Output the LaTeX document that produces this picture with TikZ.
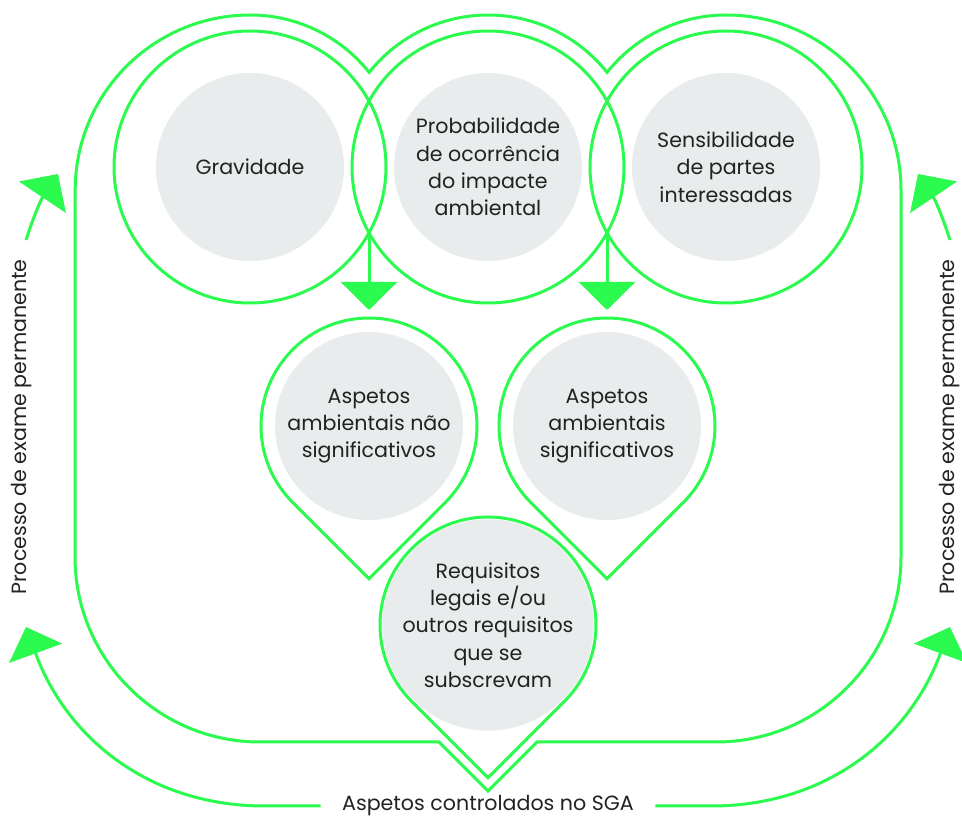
\documentclass[tikz,border=0pt]{standalone}
\usepackage{fontspec}
\setmainfont{Poppins}
\usetikzlibrary{arrows.meta,calc}
\definecolor{leaf}{RGB}{43,250,78}
\definecolor{mist}{RGB}{233,236,236}
\definecolor{ink}{RGB}{34,34,34}
\begin{document}
\begin{tikzpicture}[x=1pt, y=1pt, line width=3pt, text=ink, font=\fontsize{20.6}{27.3}\selectfont,
  main/.style = {circle, fill=mist, minimum size=188pt, inner sep=0pt, outer sep=22pt, align=center},
  ring/.style = {draw=leaf},
  flow/.style = {draw=leaf, -{Triangle[width=56pt,length=28pt]}, leaf},
  side/.style = {rotate=90}]
\useasboundingbox (0,0) rectangle (962,817);
\node[main] (1) at (250,650) {Gravidade};
\node[main] (2) at (488,650) {Probabilidade\\de ocorrência\\do impacte\\ambiental};
\node[main] (3) at (726,650) {Sensibilidade\\de partes\\interessadas};
\node[main] (4) at (369,391) {Aspetos\\ambientais não\\significativos};
\node[main] (5) at (607,391) {Aspetos\\ambientais\\significativos};
\node[main] (6) at (488,192) {Requisitos\\legais e/ou\\outros requisitos\\que se\\subscrevam};
\node[inner xsep=20pt] (7) at (488,11) {Aspetos controlados no SGA};
\node[side] (8) at (22,390) {Processo de exame permanente};
\node[side] (9) at (950,390) {Processo de exame permanente};
\coordinate (a) at (369,584);
\coordinate (b) at (607,584);
\coordinate (p1) at (26,577);
\coordinate (p2) at (58,643);
\coordinate (q1) at (950,577);
\coordinate (q2) at (918,643);
\coordinate (r1) at (26,190);
\coordinate (s1) at (950,190);
\draw[ring] (1.center) circle[radius=136];
\draw[ring] (2.center) circle[radius=136];
\draw[ring] (3.center) circle[radius=136];
\draw[ring] ($(4.center)+(-45:108)$) arc[start angle=-45, end angle=225, radius=108] -- ($(4.center)+(0,-152.7)$) -- cycle;
\draw[ring] ($(5.center)+(-45:108)$) arc[start angle=-45, end angle=225, radius=108] -- ($(5.center)+(0,-152.7)$) -- cycle;
\draw[ring] ($(6.center)+(-45:108)$) arc[start angle=-45, end angle=225, radius=108] -- ($(6.center)+(0,-152.7)$) -- cycle;
\draw[ring] (75,400) -- (75,260) arc[start angle=180, end angle=270, radius=185]
  -- (439,75) -- (488,26) -- (537,75) -- (716,75)
  arc[start angle=270, end angle=360, radius=185]
  -- (901,627) arc[start angle=0, end angle=90, radius=175]
  arc[start angle=90, end angle=141.5, radius=152]
  arc[start angle=38.5, end angle=141.5, radius=152]
  arc[start angle=38.5, end angle=90, radius=152]
  arc[start angle=90, end angle=180, radius=175] -- cycle;
\draw[flow] (a) -- (4);
\draw[flow] (b) -- (5);
\draw[flow] (p1) to[bend left=8] (p2);
\draw[flow] (q1) to[bend right=8] (q2);
\draw[flow] (7.west) -- ++(-56,0) to[out=180, in=-70] (r1);
\draw[flow] (7.east) -- ++(56,0) to[out=0, in=-110] (s1);
\end{tikzpicture}
\end{document}
